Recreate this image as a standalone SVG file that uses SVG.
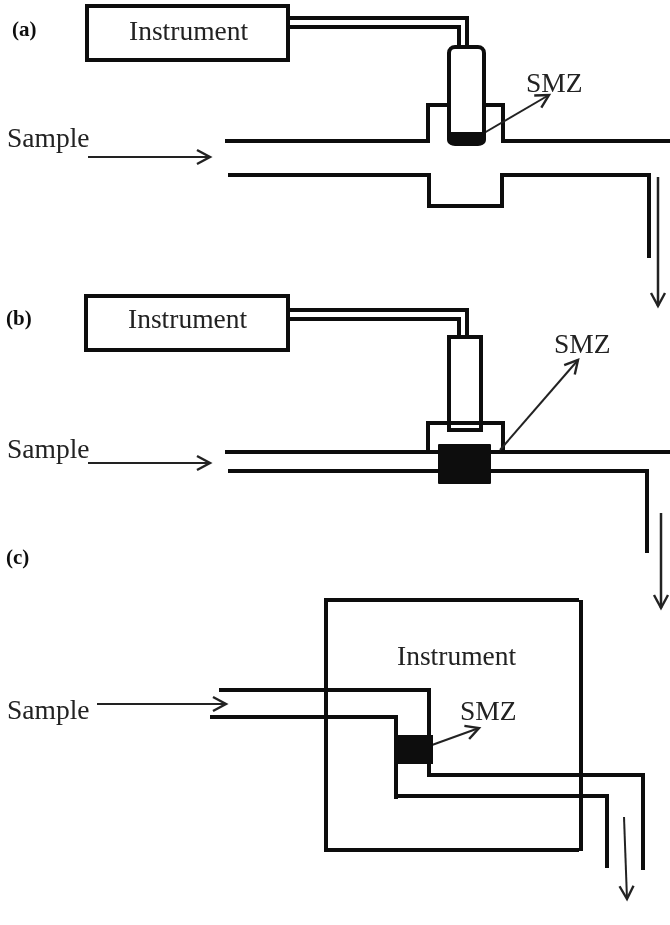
<svg xmlns="http://www.w3.org/2000/svg" width="670" height="925" viewBox="0 0 670 925">
<style>
.t{font-family:"Liberation Serif",serif;fill:#222;font-size:27.5px}
.b{font-family:"Liberation Serif",serif;fill:#111;font-size:21px;font-weight:bold}
.l{fill:none;stroke:#111;stroke-width:4}
.a{fill:none;stroke:#222;stroke-width:2}
</style>
<defs>
<marker id="h" markerUnits="userSpaceOnUse" markerWidth="24" markerHeight="24" refX="15" refY="12" orient="auto"><path d="M2 5L15 12L2 19" fill="none" stroke="#222" stroke-width="2.4"/></marker>
<filter id="soft" filterUnits="userSpaceOnUse" x="0" y="0" width="670" height="925"><feGaussianBlur stdDeviation="0.45"/></filter>
</defs>
<rect width="670" height="925" fill="#fff"/>
<g filter="url(#soft)">
<text class="b" x="12" y="36">(a)</text>
<text class="b" x="6" y="325">(b)</text>
<text class="b" x="6" y="564">(c)</text>
<g id="connectors">
<path class="l" d="M288 18H467V47M288 27H459V47"/>
<path class="l" d="M225 141H428V105H448M484 105H503V141H670"/>
<path class="l" d="M228 175H429V206H502V175H649V258"/>
<path class="a" d="M658 177V306" marker-end="url(#h)" style="stroke-width:2.5"/>
<path class="a" d="M88 157H210" marker-end="url(#h)"/>
<path class="a" d="M484 133L549 95" marker-end="url(#h)"/>
<path class="l" d="M288 310H467V337M288 319H459V337"/>
<path class="l" d="M225 452H670M428 452V423H503V452"/>
<path class="l" d="M228 471H647V553"/>
<path class="a" d="M88 463H210" marker-end="url(#h)"/>
<path class="a" d="M500 450L578 360" marker-end="url(#h)"/>
<path class="a" d="M661 513V608" marker-end="url(#h)" style="stroke-width:2.5"/>
<path class="l" d="M219 690H429V775H643V870M210 717H396V799M396 796H607V868"/>
<path class="a" d="M97 704H226" marker-end="url(#h)"/>
<path class="a" d="M432 745L479 728" marker-end="url(#h)"/>
<path class="a" d="M624 817L627 899" marker-end="url(#h)"/>
</g>
<g id="instrument-a"><rect class="l" x="87" y="6" width="201" height="54" fill="#fff"/><text class="t" x="129" y="40">Instrument</text></g>
<g id="cartridge-a"><rect class="l" x="449" y="47" width="35" height="97" rx="6" fill="#fff"/><path d="M447 132H486V139Q486 145 480 145H453Q447 145 447 139Z" fill="#111"/></g>
<g id="sample-a"><text class="t" x="7" y="147">Sample</text></g>
<g id="smz-a"><text class="t" x="526" y="92">SMZ</text></g>
<g id="instrument-b"><rect class="l" x="86" y="296" width="202" height="54" fill="#fff"/><text class="t" x="128" y="328">Instrument</text></g>
<g id="cartridge-b"><rect class="l" x="449" y="337" width="32" height="93" fill="#fff"/><rect x="438" y="444" width="53" height="40" rx="1" fill="#111"/></g>
<g id="sample-b"><text class="t" x="7" y="458">Sample</text></g>
<g id="smz-b"><text class="t" x="554" y="353">SMZ</text></g>
<g id="instrument-c"><path class="l" d="M579 600H326V850H579M581 600V851"/><text class="t" x="397" y="665">Instrument</text></g>
<g id="cartridge-c"><rect x="395" y="735" width="38" height="29" fill="#111"/></g>
<g id="sample-c"><text class="t" x="7" y="719">Sample</text></g>
<g id="smz-c"><text class="t" x="460" y="720">SMZ</text></g>
</g>
</svg>
